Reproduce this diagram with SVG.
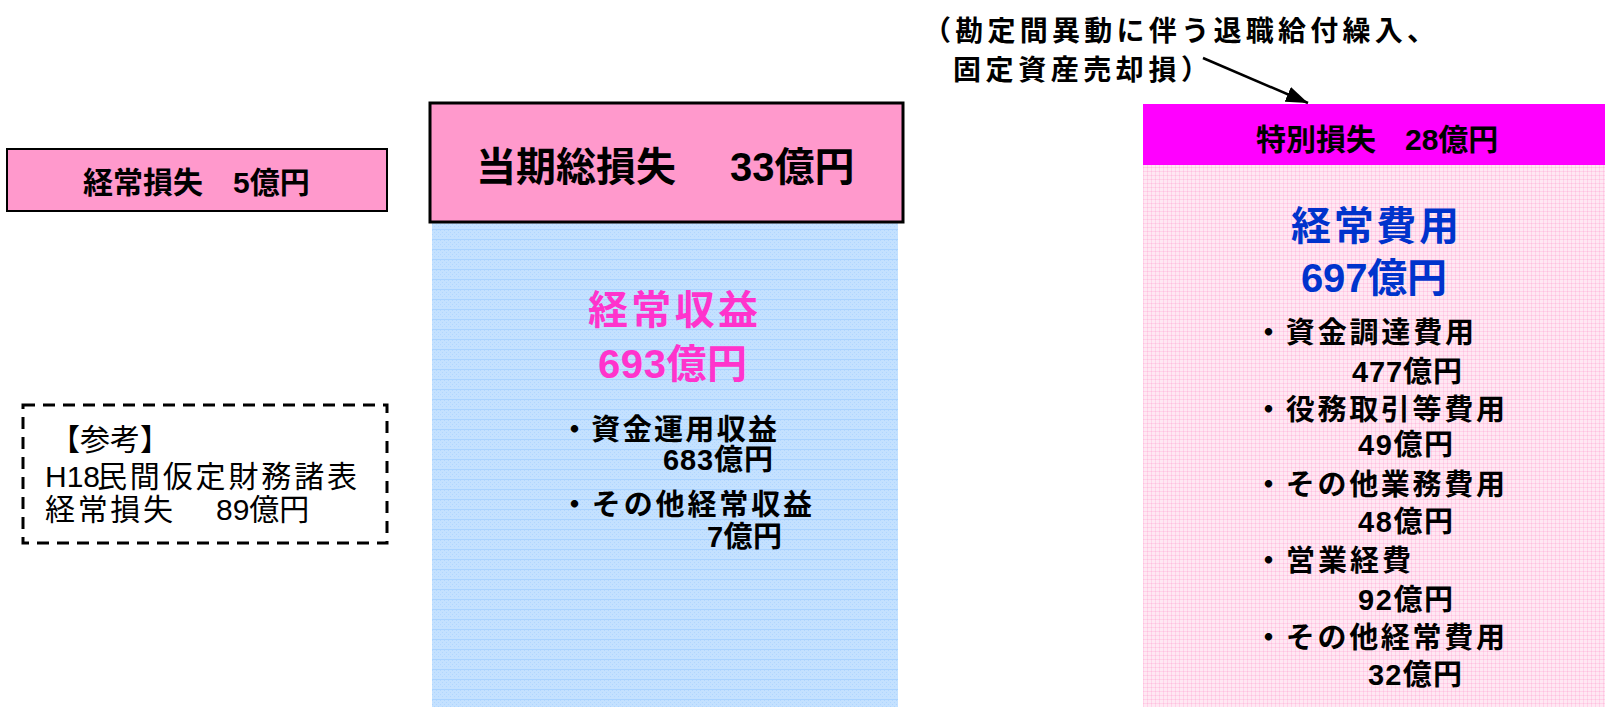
<svg xmlns="http://www.w3.org/2000/svg" width="1605" height="707" viewBox="0 0 1605 707">
<style>
  text { font-family: 'Liberation Sans', 'Noto Sans CJK JP', sans-serif; fill: #000; }
  .b { font-weight: bold; }
  .t30 { font-size: 30px; }
  .t40 { font-size: 40px; }
  .t28 { font-size: 28px; }
  .r30 { font-size: 30px; }
  .t27 { font-size: 29px; font-weight: bold; }
  .pinkbox { fill: #FF99CC; stroke: #000; }
  .pk { fill: #FF33CC; font-weight: bold; }
  .bl { fill: #0033CC; font-weight: bold; }
</style>
<defs>
  <pattern id="bluePat" x="0" y="0" width="4" height="10" patternUnits="userSpaceOnUse">
    <rect width="4" height="10" fill="#C4E1FF"/>
    <rect x="0" y="0" width="1" height="1" fill="#B0D6FF"/>
    <rect x="2" y="2" width="1" height="1" fill="#B0D6FF"/>
    <rect x="0" y="4" width="1" height="1" fill="#B0D6FF"/>
    <rect x="2" y="6" width="1" height="1" fill="#B0D6FF"/>
    <rect x="0" y="9" width="4" height="1" fill="#AAD3FF"/>
  </pattern>
  <pattern id="pinkPat" x="0" y="0" width="4" height="4" patternUnits="userSpaceOnUse">
    <rect width="4" height="4" fill="#FFE8F3"/>
    <rect x="0" y="3" width="4" height="1" fill="#FFD2E8"/>
    <rect x="3" y="0" width="1" height="4" fill="#FFD2E8"/>
    <rect x="3" y="3" width="1" height="1" fill="#FFBFDF"/>
  </pattern>
  <marker id="ah" markerWidth="22" markerHeight="16" refX="22" refY="8" orient="auto" markerUnits="userSpaceOnUse">
    <path d="M0,0 L22,8 L0,16 z" fill="#000"/>
  </marker>
</defs>

<g id="node-keijo-sonshitsu">
  <rect class="pinkbox" x="7" y="149" width="380" height="62" stroke-width="2"/>
  <text class="b t30" y="193"><tspan x="83">経常損失 </tspan><tspan x="233">5億円</tspan></text>
</g>

<g id="node-shueki">
  <rect x="432" y="223" width="466" height="484" fill="url(#bluePat)"/>
  <text class="t40 pk" x="588" y="324" textLength="170" lengthAdjust="spacing">経常収益</text>
  <text class="t40 pk" x="598" y="378" textLength="149" lengthAdjust="spacing">693億円</text>
  <text class="t27" x="560" y="440" textLength="217" lengthAdjust="spacing">・資金運用収益</text>
  <text class="t27" x="663" y="470" textLength="110" lengthAdjust="spacing">683億円</text>
  <text class="t27" x="560" y="515" textLength="252" lengthAdjust="spacing">・その他経常収益</text>
  <text class="t27" x="707" y="547" textLength="75" lengthAdjust="spacing">7億円</text>
</g>

<g id="node-touki-sonshitsu">
  <rect class="pinkbox" x="430" y="103" width="473" height="119" stroke-width="3"/>
  <text class="b t40" y="181"><tspan x="476">当期総損失　</tspan><tspan x="730">33億円</tspan></text>
</g>

<g id="node-annotation">
  <text class="b t28" x="923" y="41" textLength="512" lengthAdjust="spacing">（勘定間異動に伴う退職給付繰入、</text>
  <text class="b t28" x="953" y="80" textLength="256" lengthAdjust="spacing">固定資産売却損）</text>
</g>

<g id="node-hiyou">
  <rect x="1143" y="165" width="462" height="542" fill="url(#pinkPat)"/>
  <text class="t40 bl" x="1291" y="240" textLength="168" lengthAdjust="spacing">経常費用</text>
  <text class="t40 bl" x="1301" y="292" textLength="146" lengthAdjust="spacing">697億円</text>
  <text class="t27" x="1254" y="343" textLength="220" lengthAdjust="spacing">・資金調達費用</text>
  <text class="t27" x="1352" y="382" textLength="110" lengthAdjust="spacing">477億円</text>
  <text class="t27" x="1254" y="420" textLength="251" lengthAdjust="spacing">・役務取引等費用</text>
  <text class="t27" x="1358" y="455" textLength="95" lengthAdjust="spacing">49億円</text>
  <text class="t27" x="1254" y="495" textLength="251" lengthAdjust="spacing">・その他業務費用</text>
  <text class="t27" x="1358" y="532" textLength="95" lengthAdjust="spacing">48億円</text>
  <text class="t27" x="1254" y="571" textLength="157" lengthAdjust="spacing">・営業経費</text>
  <text class="t27" x="1358" y="610" textLength="95" lengthAdjust="spacing">92億円</text>
  <text class="t27" x="1254" y="648" textLength="251" lengthAdjust="spacing">・その他経常費用</text>
  <text class="t27" x="1368" y="685" textLength="94" lengthAdjust="spacing">32億円</text>
</g>

<g id="node-tokubetsu-sonshitsu">
  <rect x="1143" y="104" width="462" height="61" fill="#FF00FF"/>
  <text class="b t30" y="150"><tspan x="1256">特別損失 </tspan><tspan x="1405">28億円</tspan></text>
</g>

<g id="node-sanko">
  <rect x="23" y="405" width="364" height="138" fill="none" stroke="#000" stroke-width="3" stroke-dasharray="12 8"/>
  <text class="r30" x="50" y="450">【参考】</text>
  <text class="r30" y="487"><tspan x="45">H18</tspan><tspan x="97" textLength="260" lengthAdjust="spacing">民間仮定財務諸表</tspan></text>
  <text class="r30" y="520"><tspan x="45" textLength="128" lengthAdjust="spacing">経常損失</tspan><tspan>　</tspan><tspan x="216">89億円</tspan></text>
</g>

<g id="connectors">
  <line x1="1203" y1="58" x2="1308" y2="103" stroke="#000" stroke-width="2.5" marker-end="url(#ah)"/>
</g>
</svg>
